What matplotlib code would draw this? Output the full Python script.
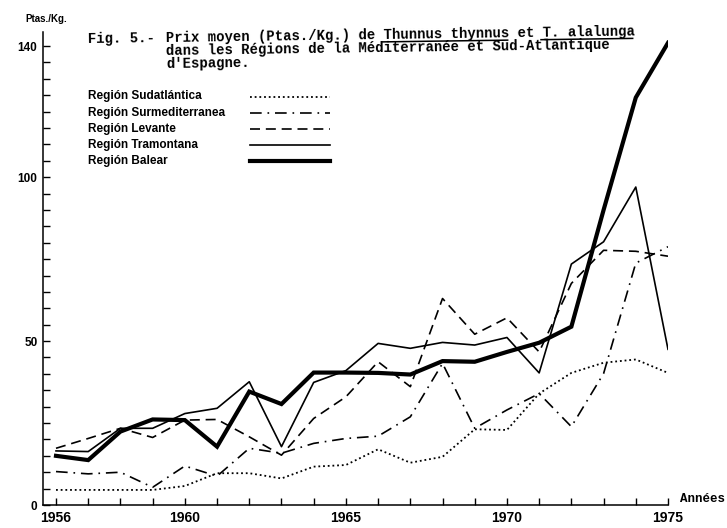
import matplotlib
matplotlib.use("Agg")
import numpy as np
import matplotlib.pyplot as plt
from matplotlib.lines import Line2D
from matplotlib.ticker import FixedLocator, NullFormatter

# data (Ptas./Kg.)
years = list(range(1956, 1976))
sudatlantica = [4.6, 4.6, 4.6, 4.6, 5.8, 9.7, 9.7, 8.1, 11.7, 12.2,
                17.0, 12.9, 14.7, 23.1, 22.9, 34.0, 40.3, 43.4, 44.4, 40.3]
surmediterranea = [10.2, 9.5, 10.0, 5.4, 11.9, 8.8, 17.3, 15.8, 18.8, 20.3,
                   21.0, 26.9, 43.2, 23.4, 29.0, 34.0, 23.9, 40.1, 73.8, 78.8]
levante = [17.3, 20.3, 23.4, 20.6, 25.9, 26.1, 20.8, 15.2, 26.4, 33.0,
           43.7, 36.1, 63.0, 52.1, 57.1, 46.7, 67.6, 77.7, 77.4, 75.9]
tramontana = [16.5, 16.3, 23.4, 23.4, 27.9, 29.5, 37.6, 17.8, 37.4, 41.0,
              49.3, 47.8, 49.6, 48.8, 51.1, 40.3, 73.5, 80.3, 97.0, 47.5]
balear = [15.0, 13.7, 22.4, 26.1, 25.9, 17.8, 34.6, 30.8, 40.4, 40.4,
          40.3, 39.8, 43.9, 43.7, 46.7, 49.5, 54.4, 90.0, 124.3, 141.0]

labels = ["Región Sudatlántica", "Región Surmediterranea", "Región Levante",
          "Región Tramontana", "Región Balear"]
xtick_years = [1956, 1960, 1965, 1970, 1975]
ytick_vals = [0, 50, 100, 140]

W, H = 727, 528
fig = plt.figure(figsize=(W / 100, H / 100), dpi=100)
fig.patch.set_facecolor("white")


def fx(x):
    return x / W


def fy(y):
    return 1 - y / H


# axes box in pixels: y axis at x=43, 1975 at x=668, 0 at y=505, top at y=32
ax = fig.add_axes([fx(43), fy(505), (668 - 43) / W, (505 - 32) / H])
ax.set_xlim(1956 - 13 / 32.2, 1975)
ax.set_ylim(0, 144.3)

styles = [
    dict(lw=1.3, ls=(0, (1, 1.6))),
    dict(lw=1.2, ls=(0, (7, 3.5, 1, 3.5))),
    dict(lw=1.2, ls=(0, (6, 3.5))),
    dict(lw=1.2, ls="-"),
    dict(lw=3.0, ls="-", solid_joinstyle="miter"),
]
series = [sudatlantica, surmediterranea, levante, tramontana, balear]
for vals, lab, st in zip(series, labels, styles):
    ax.plot(years, vals, color="black", label=lab, **st)

for s in ["top", "right"]:
    ax.spines[s].set_visible(False)
for s in ["left", "bottom"]:
    ax.spines[s].set_linewidth(1.1)

ax.xaxis.set_major_locator(FixedLocator(xtick_years))
ax.xaxis.set_minor_locator(FixedLocator(years))
ax.yaxis.set_major_locator(FixedLocator(ytick_vals))
ax.yaxis.set_minor_locator(FixedLocator(list(range(0, 146, 5))))
ax.xaxis.set_minor_formatter(NullFormatter())
ax.yaxis.set_minor_formatter(NullFormatter())
ax.tick_params(which="both", direction="in", length=5, width=1)
ax.tick_params(axis="x", labelsize=10, pad=4)
ax.tick_params(axis="y", labelsize=8.5, pad=4)
for t in ax.get_xticklabels() + ax.get_yticklabels():
    t.set_fontweight("bold")
    t.set_family("Liberation Sans")

# key: labels left-aligned, sample lines in a column to the right
for k, (lab, st) in enumerate(zip(labels, styles)):
    yk = 96.5 + k * 16.1
    fig.text(fx(88), fy(yk), lab, family="Liberation Sans", weight="bold",
             size=8.5, va="center")
    fig.add_artist(Line2D([fx(250), fx(330)], [fy(yk), fy(yk)],
                          transform=fig.transFigure, color="black", **st))

mono = dict(family="Liberation Mono", weight="bold", size=10)
tilt = 0.8  # the pasted-in caption sits slightly askew
slope = np.tan(np.radians(tilt))

fig.text(fx(25), fy(22), "Ptas./Kg.", family="Liberation Sans", weight="bold",
         size=7, va="baseline")
fig.text(fx(88), fy(43.5), "Fig. 5.-", va="baseline", rotation=tilt,
         rotation_mode="anchor", **mono)
line1 = "Prix moyen (Ptas./Kg.) de Thunnus thynnus et T. alalunga"
x1_px, y1_px = 166, 43.5 - (166 - 88) * slope
t1 = fig.text(fx(x1_px), fy(y1_px), line1, va="baseline", rotation=tilt,
              rotation_mode="anchor", **mono)
fig.text(fx(166), fy(y1_px + 12.8), "dans les Régions de la Méditerranée et Sud-Atlantique",
         va="baseline", rotation=tilt, rotation_mode="anchor", **mono)
fig.text(fx(166), fy(y1_px + 25.3), "d'Espagne.", va="baseline", rotation=tilt,
         rotation_mode="anchor", **mono)
fig.text(fx(680), fy(501.5), "Années", va="baseline",
         family="Liberation Mono", weight="bold", size=9)

# underline the species names (monospace: equal character advance)
cw = 0.6 * 10 * 100 / 72
for word in ["Thunnus thynnus", "T. alalunga"]:
    i = line1.find(word)
    xa = x1_px + i * cw
    xb = xa + len(word) * cw
    ya = y1_px + 2.5 - (xa - x1_px) * slope
    yb = y1_px + 2.5 - (xb - x1_px) * slope
    fig.add_artist(Line2D([fx(xa), fx(xb)], [fy(ya), fy(yb)],
                          transform=fig.transFigure, color="black", lw=1.1))

fig.savefig("out.png", dpi=100, facecolor="white")
